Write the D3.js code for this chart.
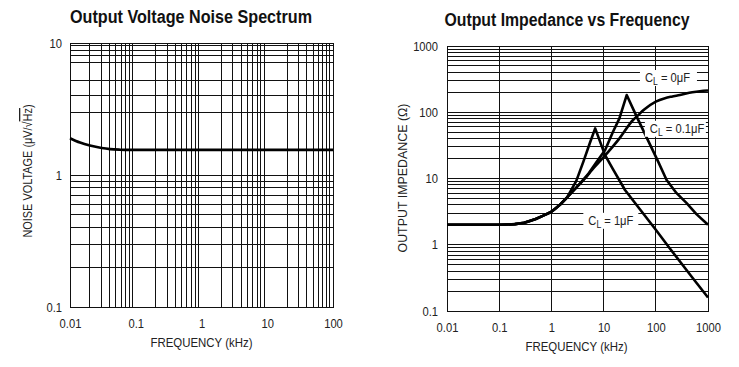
<!DOCTYPE html>
<meta charset="utf-8">
<html>
<head>
  <title>Output noise and impedance</title>
  <style>
    body { margin: 0; background: #fff; }
    text { font-family: "Liberation Sans", Arial, sans-serif; fill: #222; }
    .ttl { font-weight: bold; fill: #111; }
  </style>
</head>
<body>
<div id="my_dataviz"></div>
<script src="https://d3js.org/d3.v7.min.js"></script>
<script>

// ---- left chart: output voltage noise spectrum
var noiseFreq = [0.01, 0.0142, 0.0201, 0.0303, 0.0406, 0.0575, 0.08, 0.1, 1, 10, 100];
var noiseVolt = [1.90, 1.76, 1.67, 1.60, 1.57, 1.555, 1.55, 1.55, 1.55, 1.55, 1.55];
var noiseXTicks = [0.01, 0.1, 1, 10, 100];
var noiseXLabels = ["0.01", "0.1", "1", "10", "100"];
var noiseYTicks = [0.1, 1, 10];
var noiseYLabels = ["0.1", "1", "10"];
// the upper decade of the original grid is not a clean log grid
var noiseYGrid = [9.5, 8.75, 8.1, 7.1, 5.2, 4, 3, 1, 0.9, 0.8, 0.7, 0.6, 0.5, 0.4, 0.3, 0.2];

// ---- right chart: output impedance vs frequency
var cl0Freq = [0.01, 0.1, 0.2, 0.3, 0.5, 0.7, 1, 1.5, 2, 3, 4.4, 6, 10, 20, 37, 43, 60, 100, 150, 200, 290, 500, 700, 1000];
var cl0Imp  = [2, 2, 2.05, 2.15, 2.45, 2.75, 3.15, 4.1, 5.2, 7.3, 10, 13.5, 21, 40, 77, 86, 110, 145, 163, 172, 182, 200, 208, 213];
var cl01Freq = [0.01, 0.1, 0.2, 0.3, 0.5, 0.7, 1, 1.5, 2, 3, 5, 7, 10.7, 15, 20, 27.7, 43, 111, 161, 250, 390, 600, 1000];
var cl01Imp  = [2, 2, 2.05, 2.15, 2.45, 2.75, 3.15, 4.1, 5.2, 7.3, 11.5, 16.9, 27, 50, 80, 182, 86, 18, 9.5, 6.0, 4.25, 2.9, 2.0];
var cl1Freq = [0.01, 0.1, 0.2, 0.3, 0.5, 0.7, 1, 1.5, 2, 3, 4.1, 5.5, 6.9, 10.6, 15, 25.7, 50, 100, 186, 500, 1000];
var cl1Imp  = [2, 2, 2.05, 2.15, 2.45, 2.75, 3.15, 4.1, 5.2, 9.2, 18, 35, 57, 22.7, 14, 6.7, 3.4, 1.68, 0.88, 0.32, 0.16];
var impXTicks = [0.01, 0.1, 1, 10, 100, 1000];
var impXLabels = ["0.01", "0.1", "1", "10", "100", "1000"];
var impYTicks = [0.1, 1, 10, 100, 1000];
var impYLabels = ["0.1", "1", "10", "100", "1000"];
var clNames = ["0μF", "0.1μF", "1μF"];

var svg = d3.select("#my_dataviz")
  .append("svg")
    .attr("width", 739)
    .attr("height", 367);

svg.append("rect").attr("width", 739).attr("height", 367).attr("fill", "#fff");

// squeeze text horizontally, the source uses a condensed face
function squeeze(sel, k) {
  sel.each(function() {
    var w = this.getComputedTextLength();
    this.setAttribute("textLength", w * k);
    this.setAttribute("lengthAdjust", "spacingAndGlyphs");
  });
}

function minors(lo, hi) {
  var out = [];
  for (var d = lo; d < hi * 0.99; d *= 10)
    for (var m = 2; m <= 9; m++) out.push(d * m);
  return out;
}

function drawPanel(o) {
  var x = d3.scaleLog().domain(o.xDomain).range(o.xRange);
  var y = d3.scaleLog().domain(o.yDomain).range(o.yRange);
  var g = svg.append("g");

  var grid = g.append("g")
    .attr("stroke", "#111")
    .attr("stroke-width", 1)
    .attr("shape-rendering", "crispEdges");

  grid.selectAll("line.v").data(o.xGrid).join("line")
    .attr("class", "v")
    .attr("x1", function(d) { return x(d); })
    .attr("x2", function(d) { return x(d); })
    .attr("y1", o.yRange[0]).attr("y2", o.yRange[1]);

  grid.selectAll("line.h").data(o.yGrid).join("line")
    .attr("class", "h")
    .attr("y1", function(d) { return y(d); })
    .attr("y2", function(d) { return y(d); })
    .attr("x1", o.xRange[0]).attr("x2", o.xRange[1]);

  // frame
  grid.append("rect")
    .attr("x", o.xRange[0]).attr("y", o.yRange[1])
    .attr("width", o.xRange[1] - o.xRange[0])
    .attr("height", o.yRange[0] - o.yRange[1])
    .attr("fill", "none");

  // X axis labels
  var xa = g.append("g")
    .attr("transform", "translate(0," + o.yRange[0] + ")")
    .call(d3.axisBottom(x).tickValues(o.xTicks)
      .tickFormat(function(d, i) { return o.xLabels[i]; })
      .tickSize(0).tickPadding(12));
  xa.select(".domain").remove();
  xa.selectAll("text").attr("font-size", 13).attr("font-family", null).attr("fill", "#222");
  squeeze(xa.selectAll("text"), 0.86);

  // Y axis labels
  var ya = g.append("g")
    .attr("transform", "translate(" + o.xRange[0] + ",0)")
    .call(d3.axisLeft(y).tickValues(o.yTicks)
      .tickFormat(function(d, i) { return o.yLabels[i]; })
      .tickSize(0).tickPadding(o.yPad));
  ya.select(".domain").remove();
  ya.selectAll("text").attr("font-size", 13).attr("font-family", null).attr("fill", "#222");
  squeeze(ya.selectAll("text"), 0.86);

  // title
  g.append("text").attr("class", "ttl")
    .attr("x", o.titleX).attr("y", o.titleY)
    .attr("text-anchor", "middle")
    .attr("font-size", 17.5)
    .attr("textLength", o.titleW).attr("lengthAdjust", "spacingAndGlyphs")
    .text(o.title);

  // x axis title
  g.append("text")
    .attr("x", (o.xRange[0] + o.xRange[1]) / 2 + o.xTitleDx).attr("y", o.yRange[0] + 39.5)
    .attr("text-anchor", "middle")
    .attr("font-size", 13)
    .attr("textLength", 102).attr("lengthAdjust", "spacingAndGlyphs")
    .text("FREQUENCY (kHz)");

  return { x: x, y: y, g: g };
}

// ---------- left
var left = drawPanel({
  xDomain: [0.01, 100], xRange: [70, 333],
  yDomain: [0.1, 10], yRange: [307, 43],
  xGrid: minors(0.01, 100),
  yGrid: noiseYGrid,
  xTicks: noiseXTicks, xLabels: noiseXLabels,
  yTicks: noiseYTicks, yLabels: noiseYLabels, yPad: 8,
  title: "Output Voltage Noise Spectrum", titleX: 191, titleY: 23, titleW: 242,
  xTitleDx: 0
});

var yl = left.g.append("g")
  .attr("transform", "translate(32,171) rotate(-90) scale(0.84,1)")
  .append("text")
    .attr("text-anchor", "middle")
    .attr("font-size", 13);
yl.append("tspan").text("NOISE VOLTAGE (μV/√");
yl.append("tspan").style("text-decoration", "overline").text("Hz");
yl.append("tspan").text(")");

left.g.append("path")
  .datum(d3.zip(noiseFreq, noiseVolt))
  .attr("fill", "none")
  .attr("stroke", "#000")
  .attr("stroke-width", 2.6)
  .attr("stroke-linejoin", "round")
  .attr("d", d3.line()
    .x(function(d) { return left.x(d[0]); })
    .y(function(d) { return left.y(d[1]); })
    .curve(d3.curveMonotoneX));

// ---------- right
var right = drawPanel({
  xDomain: [0.01, 1000], xRange: [447, 708],
  yDomain: [0.1, 1000], yRange: [311, 46],
  xGrid: [0.1, 1, 10, 100],
  yGrid: minors(0.1, 1000).concat([1, 10, 100]),
  xTicks: impXTicks, xLabels: impXLabels,
  yTicks: impYTicks, yLabels: impYLabels, yPad: 9,
  title: "Output Impedance vs Frequency", titleX: 567, titleY: 26, titleW: 245,
  xTitleDx: -1
});

right.g.append("text")
  .attr("text-anchor", "middle")
  .attr("font-size", 13)
  .attr("transform", "translate(407,178) rotate(-90)")
  .attr("textLength", 149).attr("lengthAdjust", "spacingAndGlyphs")
  .text("OUTPUT IMPEDANCE (Ω)");

var impLine = d3.line()
  .x(function(d) { return right.x(d[0]); })
  .y(function(d) { return right.y(d[1]); });

// CL = 0 has no resonance, so it can be smoothed; the others keep sharp peaks
[[cl0Freq, cl0Imp, d3.curveMonotoneX], [cl01Freq, cl01Imp, d3.curveLinear], [cl1Freq, cl1Imp, d3.curveLinear]].forEach(function(s) {
  right.g.append("path")
    .datum(d3.zip(s[0], s[1]))
    .attr("fill", "none")
    .attr("stroke", "#000")
    .attr("stroke-width", 2.6)
    .attr("stroke-linejoin", "round")
    .attr("d", impLine.curve(s[2]));
});

// curve labels with white boxes over the grid
function curveLabel(f, z, name, boxW) {
  var px = right.x(f), py = right.y(z);
  right.g.append("rect")
    .attr("x", px - 5).attr("y", py - 12)
    .attr("width", boxW).attr("height", 16)
    .attr("fill", "#fff");
  var t = right.g.append("g")
    .attr("transform", "translate(" + px + "," + py + ") scale(0.86,1)")
    .append("text").attr("font-size", 13);
  t.append("tspan").text("C");
  t.append("tspan").attr("dy", 3).attr("font-size", 10).text("L");
  t.append("tspan").attr("dy", -3).text(" = " + name);
}
curveLabel(62, 286, clNames[0], 57);
curveLabel(77, 49, clNames[1], 61);
curveLabel(5.1, 2.0, clNames[2], 55);

</script>
</body>
</html>
